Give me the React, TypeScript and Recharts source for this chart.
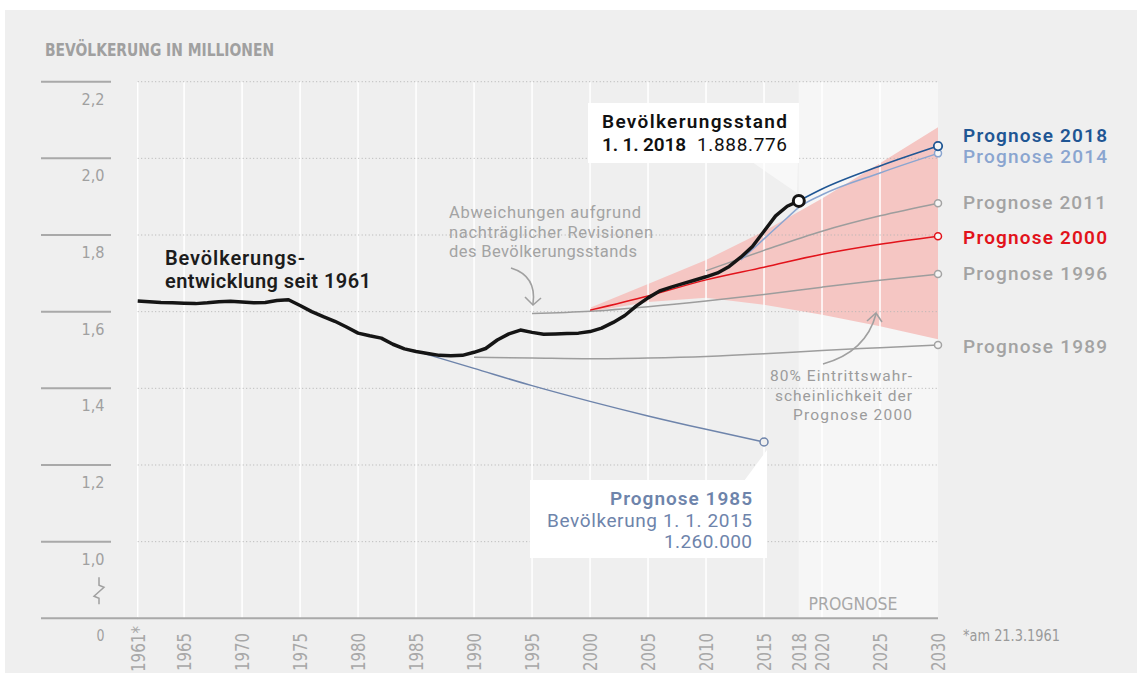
import React from 'react';
import { ComposedChart, Line, Area, XAxis, YAxis, ReferenceLine, ReferenceArea } from 'recharts';

// ---- data (Bevölkerung in Millionen) ----
const bevoelkerung: [number, number][] = [
  [1961, 1.628], [1962, 1.626], [1963, 1.624], [1964, 1.623], [1965, 1.622], [1966, 1.621],
  [1967, 1.623], [1968, 1.626], [1969, 1.627], [1970, 1.625], [1971, 1.623], [1972, 1.624],
  [1973, 1.629], [1974, 1.631], [1975, 1.616], [1976, 1.600], [1977, 1.587], [1978, 1.575],
  [1979, 1.560], [1980, 1.544], [1981, 1.537], [1982, 1.531], [1983, 1.515], [1984, 1.503],
  [1985, 1.496], [1986, 1.491], [1987, 1.486], [1988, 1.485], [1989, 1.486], [1990, 1.494],
  [1991, 1.504], [1992, 1.526], [1993, 1.542], [1994, 1.552], [1995, 1.546], [1996, 1.541],
  [1997, 1.542], [1998, 1.543], [1999, 1.544], [2000, 1.548], [2001, 1.557], [2002, 1.572],
  [2003, 1.590], [2004, 1.615], [2005, 1.636], [2006, 1.654], [2007, 1.664], [2008, 1.673],
  [2009, 1.682], [2010, 1.691], [2011, 1.701], [2012, 1.718], [2013, 1.742], [2014, 1.770],
  [2015, 1.810], [2016, 1.850], [2017, 1.875], [2018, 1.889],
];
const prognose1985: [number, number][] = [
  [1985, 1.497], [1990, 1.452], [1995, 1.407], [2000, 1.366], [2005, 1.328], [2010, 1.293], [2015, 1.26],
];
const prognose1989: [number, number][] = [
  [1990, 1.481], [1995, 1.479], [2000, 1.477], [2005, 1.479], [2010, 1.483], [2015, 1.49],
  [2020, 1.499], [2025, 1.506], [2030, 1.513],
];
const prognose1996: [number, number][] = [
  [1995, 1.595], [2000, 1.601], [2005, 1.613], [2010, 1.628], [2015, 1.645], [2020, 1.664],
  [2025, 1.682], [2030, 1.698],
];
const prognose2000: [number, number][] = [
  [2000, 1.604], [2005, 1.641], [2010, 1.683], [2015, 1.716], [2020, 1.75], [2025, 1.776], [2030, 1.797],
];
const prognose2011: [number, number][] = [
  [2010, 1.707], [2015, 1.76], [2020, 1.81], [2025, 1.85], [2030, 1.883],
];
const prognose2014: [number, number][] = [
  [2013, 1.735], [2015, 1.79], [2017, 1.845], [2018, 1.872], [2020, 1.905], [2025, 1.962], [2030, 2.013],
];
const prognose2018: [number, number][] = [
  [2018, 1.889], [2020, 1.92], [2025, 1.98], [2030, 2.032],
];
// 80% Eintrittswahrscheinlichkeit der Prognose 2000: [Jahr, untere Grenze, obere Grenze]
const band2000: [number, number, number][] = [
  [2000, 1.6, 1.61], [2005, 1.625, 1.672], [2010, 1.636, 1.735], [2015, 1.618, 1.81],
  [2020, 1.592, 1.895], [2025, 1.562, 1.987], [2030, 1.528, 2.081],
];

const X_TICKS = [1961, 1965, 1970, 1975, 1980, 1985, 1990, 1995, 2000, 2005, 2010, 2015, 2018, 2020, 2025, 2030];
const X_LABELS = ['1961*', '1965', '1970', '1975', '1980', '1985', '1990', '1995', '2000', '2005', '2010', '2015', '2018', '2020', '2025', '2030'];
const X_GRID = [1961, 1965, 1970, 1975, 1980, 1985, 1990, 1995, 2000, 2005, 2010, 2015, 2020, 2025];
const Y_TICKS = [0.8, 1.0, 1.2, 1.4, 1.6, 1.8, 2.0, 2.2];
const Y_LABELS = ['0', '1,0', '1,2', '1,4', '1,6', '1,8', '2,0', '2,2'];
const Y_GRID = [1.0, 1.2, 1.4, 1.6, 1.8, 2.0, 2.2];

// ---- build table ----
const rowMap = new Map<number, any>();
const getRow = (yr: number) => {
  if (!rowMap.has(yr)) rowMap.set(yr, { year: yr });
  return rowMap.get(yr);
};
const seriesList: [string, [number, number][]][] = [
  ['ist', bevoelkerung], ['p1985', prognose1985], ['p1989', prognose1989], ['p1996', prognose1996],
  ['p2000', prognose2000], ['p2011', prognose2011], ['p2014', prognose2014], ['p2018', prognose2018],
];
seriesList.forEach(([key, arr]) => arr.forEach(([yr, v]) => { getRow(yr)[key] = v; }));
band2000.forEach(([yr, lo, hi]) => { getRow(yr).band = [lo, hi]; });
const rows = Array.from(rowMap.values()).sort((a, b) => a.year - b.year);

const FONT = "Roboto, 'Noto Sans', sans-serif";
const COND = "'Liberation Sans Narrow', 'DejaVu Sans Condensed', 'Roboto', sans-serif";

const BG = '#efefef';
const BG_PROG = '#f6f6f6';
const GRAY_LINE = '#9d9d9d';
const RED = '#e2131b';
const BLUE18 = '#1f5694';
const BLUE14 = '#8aa5d0';
const BLUE85 = '#6e84ab';

const XTick = (props: any) => {
  const { x, payload } = props;
  const idx = X_TICKS.indexOf(payload.value);
  const label = X_LABELS[idx] ?? String(payload.value);
  const len = label.length === 5 ? 46 : 38;
  return (
    <text
      transform={`translate(${x + 7},${label.length === 5 ? 626 : 633}) rotate(-90)`}
      textAnchor="end"
      fontFamily={COND}
      fontSize={19}
      fill="#a8a8a8"
      textLength={len}
      lengthAdjust="spacingAndGlyphs"
    >
      {label}
    </text>
  );
};

const YTick = (props: any) => {
  const { y, payload } = props;
  const idx = Y_TICKS.indexOf(payload.value);
  const label = Y_LABELS[idx] ?? '';
  const isZero = idx === 0;
  return (
    <g>
      <line x1={41} x2={isZero ? 138 : 111} y1={y} y2={y} stroke="#a9a9a9" strokeWidth={2} />
      <text
        x={104.5}
        y={y + 23}
        textAnchor="end"
        fontFamily={COND}
        fontSize={16}
        fill="#a0a0a0"
        textLength={label.length === 1 ? 8 : 23}
        lengthAdjust="spacingAndGlyphs"
      >
        {label}
      </text>
      {isZero && (
        <path
          d={`M 99 ${y - 41} L 99 ${y - 33} L 104 ${y - 31} L 94 ${y - 22} L 99 ${y - 20} L 99 ${y - 14}`}
          fill="none"
          stroke="#a0a0a0"
          strokeWidth={1.5}
        />
      )}
    </g>
  );
};

const endDot = (lastYear: number, color: string, r = 3.5, sw = 1.5, fill = BG_PROG) => (p: any) => {
  const k = `d-${lastYear}-${color}-${p.index}`;
  if (!p.payload || p.payload.year !== lastYear || p.cy == null || p.cx == null) return <g key={k} />;
  return <circle key={k} cx={p.cx} cy={p.cy} r={r} stroke={color} strokeWidth={sw} fill={fill} />;
};

const T = ({ x, y, w, size = 19, weight = 400, fill, anchor = 'start', children }: any) => (
  <text x={x} y={y} textAnchor={anchor} fontFamily={FONT} fontSize={size} fontWeight={weight} fill={fill} textLength={w} lengthAdjust="spacing">
    {children}
  </text>
);

export default function App() {
  return (
    <div style={{ position: 'absolute', left: 0, top: 0, width: 1137, height: 673, background: '#fff', overflow: 'hidden' }}>
      <div style={{ position: 'absolute', left: 5, top: 10, width: 1132, height: 663, background: BG }} />
      <div style={{ position: 'absolute', left: 0, top: 0 }}>
        <ComposedChart width={1137} height={673} data={rows} margin={{ top: 81.7, right: 199, bottom: 0, left: 0 }}>
          <XAxis
            dataKey="year"
            type="number"
            domain={[1961, 2030]}
            ticks={X_TICKS}
            interval={0}
            height={54.7}
            axisLine={false}
            tickLine={false}
            tick={<XTick />}
          />
          <YAxis
            type="number"
            domain={[0.8, 2.2]}
            ticks={Y_TICKS}
            interval={0}
            width={137.7}
            axisLine={false}
            tickLine={false}
            tick={<YTick />}
          />
          <ReferenceArea x1={2018} x2={2030} y1={0.8} y2={2.2} fill={BG_PROG} fillOpacity={1} stroke="none" />
          {X_GRID.map((yr) => (
            <ReferenceLine key={`vx-${yr}`} x={yr} stroke="#ffffff" strokeWidth={1.5} />
          ))}
          <ReferenceArea x1={1961} x2={2018} y1={0.84} y2={0.913} fill={BG} fillOpacity={1} stroke="none" />
          <ReferenceArea x1={2018} x2={2030} y1={0.84} y2={0.913} fill={BG_PROG} fillOpacity={1} stroke="none" />
          {Y_GRID.map((v) => (
            <ReferenceLine key={`hy-${v}`} y={v} stroke="#b3b3b3" strokeWidth={1} strokeDasharray="1 2.5" />
          ))}
          <ReferenceLine y={0.8} stroke="#a9a9a9" strokeWidth={2} />
          <Area
            dataKey="band"
            type="linear"
            connectNulls
            fill="#f5c6c3"
            fillOpacity={1}
            stroke="none"
            isAnimationActive={false}
            dot={false}
            activeDot={false}
          />
          <Line dataKey="p1989" type="monotone" connectNulls stroke={GRAY_LINE} strokeWidth={1.5} isAnimationActive={false} activeDot={false} dot={endDot(2030, '#a3a3a3')} />
          <Line dataKey="p1996" type="monotone" connectNulls stroke={GRAY_LINE} strokeWidth={1.5} isAnimationActive={false} activeDot={false} dot={endDot(2030, '#a3a3a3')} />
          <Line dataKey="p2011" type="monotone" connectNulls stroke={GRAY_LINE} strokeWidth={1.5} isAnimationActive={false} activeDot={false} dot={endDot(2030, '#a3a3a3')} />
          <Line dataKey="p2000" type="monotone" connectNulls stroke={RED} strokeWidth={1.5} isAnimationActive={false} activeDot={false} dot={endDot(2030, RED)} />
          <Line dataKey="p1985" type="monotone" connectNulls stroke={BLUE85} strokeWidth={1.5} isAnimationActive={false} activeDot={false} dot={endDot(2015, BLUE85, 4, 1.5, BG)} />
          <Line dataKey="p2014" type="monotone" connectNulls stroke={BLUE14} strokeWidth={1.5} isAnimationActive={false} activeDot={false} dot={endDot(2030, BLUE14)} />
          <Line dataKey="p2018" type="monotone" connectNulls stroke={BLUE18} strokeWidth={1.6} isAnimationActive={false} activeDot={false} dot={endDot(2030, BLUE18, 4.2, 1.8)} />
          <Line dataKey="ist" type="linear" connectNulls stroke="#151515" strokeWidth={3.5} strokeLinejoin="round" isAnimationActive={false} activeDot={false} dot={endDot(2018, '#151515', 5.5, 3, '#ffffff')} />
        </ComposedChart>
      </div>
      <svg width={1137} height={673} style={{ position: 'absolute', left: 0, top: 0, pointerEvents: 'none' }}>
        {/* title */}
        <text x={45} y={56} fontFamily={COND} fontSize={17} fontWeight={700} fill="#a0a0a0" textLength={229} lengthAdjust="spacingAndGlyphs">
          BEVÖLKERUNG IN MILLIONEN
        </text>

        {/* Bevölkerungsentwicklung */}
        <T x={165} y={265} w={140} size={20} weight={600} fill="#1c1c1c">Bevölkerungs-</T>
        <T x={165} y={288} w={206} size={20} weight={600} fill="#1c1c1c">entwicklung seit 1961</T>

        {/* Bevölkerungsstand box */}
        <polygon points="752,162 798,162 797,193" fill="#ffffff" fillOpacity={0.55} />
        <rect x={588} y={103} width={211} height={60} fill="#ffffff" />
        <T x={602} y={128} w={185} weight={600} fill="#111">Bevölkerungsstand</T>
        <T x={602} y={151} w={84} weight={600} fill="#111">1. 1. 2018</T>
        <T x={787} y={151} w={90} anchor="end" fill="#111">1.888.776</T>

        {/* Abweichungen */}
        <T x={449} y={218} w={192} size={16.5} fill="#a3a3a3">Abweichungen aufgrund</T>
        <T x={449} y={238} w={204} size={16.5} fill="#a3a3a3">nachträglicher Revisionen</T>
        <T x={449} y={257} w={188} size={16.5} fill="#a3a3a3">des Bevölkerungsstands</T>
        <path d="M 511 268 Q 537 276 533 304" fill="none" stroke="#a0a0a0" strokeWidth={1.6} />
        <path d="M 525 297 L 533 305 L 541 298" fill="none" stroke="#a0a0a0" strokeWidth={1.6} />

        {/* 80% */}
        <T x={912} y={381} w={142} size={15.5} anchor="end" fill="#9c9c9c">80% Eintrittswahr-</T>
        <T x={912} y={401} w={137} size={15.5} anchor="end" fill="#9c9c9c">scheinlichkeit der</T>
        <T x={912} y={420} w={119} size={15.5} anchor="end" fill="#9c9c9c">Prognose 2000</T>
        <path d="M 823 364 Q 866 352 876 314" fill="none" stroke="#a0a0a0" strokeWidth={1.6} />
        <path d="M 867 321 L 876 313 L 882 322" fill="none" stroke="#a0a0a0" strokeWidth={1.6} />

        {/* Prognose 1985 box */}
        <polygon points="744,481 767,481 767,450" fill="#ffffff" />
        <rect x={530} y={480} width={237} height={78} fill="#ffffff" />
        <T x={752} y={505} w={142} anchor="end" weight={600} fill={BLUE85}>Prognose 1985</T>
        <T x={752} y={527} w={205} anchor="end" fill={BLUE85}>Bevölkerung 1. 1. 2015</T>
        <T x={752} y={548} w={88} anchor="end" fill={BLUE85}>1.260.000</T>

        {/* right labels */}
        <T x={963} y={142} w={144} weight={600} fill={BLUE18}>Prognose 2018</T>
        <T x={963} y={163} w={144} weight={500} fill={BLUE14}>Prognose 2014</T>
        <T x={963} y={209} w={143} weight={500} fill="#a3a3a3">Prognose 2011</T>
        <T x={963} y={244} w={144} weight={600} fill={RED}>Prognose 2000</T>
        <T x={963} y={280} w={144} weight={500} fill="#a3a3a3">Prognose 1996</T>
        <T x={963} y={353} w={144} weight={500} fill="#a3a3a3">Prognose 1989</T>

        {/* Prognose area label & footnote */}
        <text x={853} y={610} textAnchor="middle" fontFamily={COND} fontSize={18} fill="#a8a8a8" textLength={89} lengthAdjust="spacingAndGlyphs">PROGNOSE</text>
        <text x={963} y={641} fontFamily={COND} fontSize={15} fill="#9a9a9a" textLength={97} lengthAdjust="spacingAndGlyphs">*am 21.3.1961</text>
      </svg>
    </div>
  );
}
